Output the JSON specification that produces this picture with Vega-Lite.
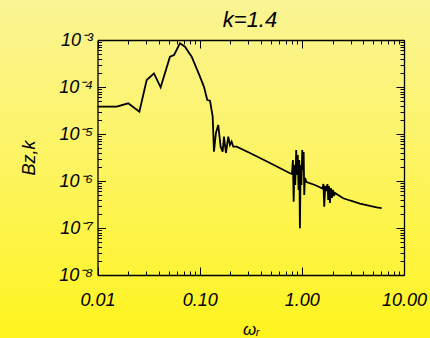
{
  "$schema": "https://vega.github.io/schema/vega-lite/v6.json",
  "autosize": "none",
  "width": 430,
  "height": 338,
  "padding": 0,
  "background": "#FCF460",
  "config": {
    "view": {
      "stroke": null,
      "fill": {
        "gradient": "linear", "x1": 0, "y1": 0, "x2": 0, "y2": 1,
        "stops": [
          {"offset": 0, "color": "#FAF494"},
          {"offset": 0.5, "color": "#FDF460"},
          {"offset": 1, "color": "#FFF41E"}
        ]
      }
    },
    "axis": {
      "grid": false,
      "domain": false,
      "labelFont": "Liberation Sans",
      "labelFontStyle": "italic",
      "labelColor": "#000000",
      "titleFont": "Liberation Sans",
      "titleFontStyle": "italic",
      "titleFontWeight": "normal",
      "titleColor": "#000000",
      "tickColor": "#000000",
      "tickWidth": 1,
      "domainColor": "#000000",
      "domainWidth": 1.3
    }
  },
  "title": {
    "text": "k=1.4",
    "frame": "group",
    "font": "Liberation Sans",
    "fontStyle": "italic",
    "fontWeight": "normal",
    "fontSize": 22,
    "color": "#000000",
    "anchor": "start",
    "align": "center",
    "dx": 250,
    "baseline": "alphabetic",
    "offset": -49
  },
  "data": {
    "values": [
      {"w": 0.01, "B": 3.81e-5},
      {"w": 0.0154, "B": 3.81e-5},
      {"w": 0.0200, "B": 4.50e-5},
      {"w": 0.0257, "B": 2.98e-5},
      {"w": 0.0303, "B": 1.41e-4},
      {"w": 0.0357, "B": 1.95e-4},
      {"w": 0.0415, "B": 9.86e-5},
      {"w": 0.0512, "B": 4.41e-4},
      {"w": 0.0561, "B": 4.80e-4},
      {"w": 0.0642, "B": 8.51e-4},
      {"w": 0.0718, "B": 7.20e-4},
      {"w": 0.0835, "B": 4.41e-4},
      {"w": 0.1007, "B": 1.66e-4},
      {"w": 0.1102, "B": 1.01e-4},
      {"w": 0.1187, "B": 5.28e-5},
      {"w": 0.1262, "B": 5.11e-5},
      {"w": 0.1341, "B": 2.34e-5},
      {"w": 0.1380, "B": 4.20e-6},
      {"w": 0.1443, "B": 1.05e-5},
      {"w": 0.1520, "B": 1.55e-5},
      {"w": 0.1604, "B": 5.37e-6},
      {"w": 0.1678, "B": 4.20e-6},
      {"w": 0.1730, "B": 8.77e-6},
      {"w": 0.1808, "B": 3.94e-6},
      {"w": 0.1905, "B": 8.77e-6},
      {"w": 0.1978, "B": 5.83e-6},
      {"w": 0.2055, "B": 6.86e-6},
      {"w": 0.2133, "B": 5.37e-6},
      {"w": 0.2303, "B": 5.37e-6},
      {"w": 0.3105, "B": 3.94e-6},
      {"w": 0.4875, "B": 2.42e-6},
      {"w": 0.7656, "B": 1.46e-6},
      {"w": 0.800, "B": 1.41e-6},
      {"w": 0.818, "B": 2.80e-6},
      {"w": 0.832, "B": 3.63e-7},
      {"w": 0.847, "B": 2.19e-6},
      {"w": 0.862, "B": 8.22e-7},
      {"w": 0.881, "B": 4.57e-6},
      {"w": 0.895, "B": 1.34e-6},
      {"w": 0.912, "B": 3.57e-6},
      {"w": 0.929, "B": 6.44e-7},
      {"w": 0.944, "B": 2.80e-6},
      {"w": 0.958, "B": 9.87e-8},
      {"w": 0.973, "B": 2.19e-6},
      {"w": 0.991, "B": 8.22e-7},
      {"w": 1.009, "B": 4.57e-6},
      {"w": 1.025, "B": 1.71e-6},
      {"w": 1.042, "B": 4.14e-6},
      {"w": 1.056, "B": 5.04e-7},
      {"w": 1.072, "B": 1.16e-6},
      {"w": 1.113, "B": 9.53e-7},
      {"w": 1.343, "B": 8.22e-7},
      {"w": 1.591, "B": 6.92e-7},
      {"w": 1.627, "B": 8.63e-7},
      {"w": 1.656, "B": 2.84e-7},
      {"w": 1.694, "B": 7.83e-7},
      {"w": 1.750, "B": 6.13e-7},
      {"w": 1.781, "B": 8.63e-7},
      {"w": 1.812, "B": 3.95e-7},
      {"w": 1.841, "B": 7.83e-7},
      {"w": 1.884, "B": 3.40e-7},
      {"w": 1.927, "B": 7.10e-7},
      {"w": 1.970, "B": 4.35e-7},
      {"w": 2.015, "B": 6.44e-7},
      {"w": 2.061, "B": 4.80e-7},
      {"w": 2.108, "B": 5.56e-7},
      {"w": 2.541, "B": 4.29e-7},
      {"w": 2.957, "B": 3.85e-7},
      {"w": 3.705, "B": 3.32e-7},
      {"w": 4.64, "B": 2.94e-7},
      {"w": 5.40, "B": 2.75e-7},
      {"w": 6.04, "B": 2.66e-7}
    ]
  },
  "layer": [
    {
      "mark": {"type": "line", "color": "#000000", "strokeWidth": 1.8},
      "encoding": {
        "x": {
          "field": "w", "type": "quantitative",
          "scale": {"type": "log", "domain": [0.01, 10], "range": [97.5, 404], "nice": false},
          "axis": {
            "orient": "bottom",
            "offset": -63,
            "values": [0.01, 0.1, 1, 10],
            "ticks": false,
            "labelExpr": "format(datum.value, '.2f')",
            "labelFontSize": 18,
            "labelPadding": 16,
            "labelFlush": false,
            "labelOverlap": false,
            "title": "ωᵣ",
            "titleFontSize": 17,
            "titlePadding": 12
          }
        },
        "y": {
          "field": "B", "type": "quantitative",
          "scale": {"type": "log", "domain": [1e-8, 1e-3], "range": [275, 40], "nice": false},
          "axis": {
            "orient": "left",
            "offset": -97.5,
            "values": [1e-8, 1e-7, 1e-6, 1e-5, 1e-4, 1e-3],
            "ticks": false,
            "labelExpr": "'10⁻' + ['⁰','¹','²','³','⁴','⁵','⁶','⁷','⁸','⁹'][-round(log(datum.value) / LN10)]",
            "labelFontSize": 18,
            "labelPadding": 5,
            "labelFlush": false,
            "labelOverlap": false,
            "title": "Bz,k",
            "titleFontSize": 18,
            "titlePadding": 20
          }
        }
      }
    },
    {
      "mark": {"type": "line", "strokeOpacity": 0},
      "encoding": {
        "x": {
          "field": "w", "type": "quantitative",
          "axis": {
            "orient": "bottom",
            "offset": -63,
            "domain": true,
            "values": [0.01, 0.02, 0.03, 0.04, 0.05, 0.06, 0.07, 0.08, 0.09, 0.1, 0.2, 0.3, 0.4, 0.5, 0.6, 0.7, 0.8, 0.9, 1, 2, 3, 4, 5, 6, 7, 8, 9, 10],
            "labels": false,
            "title": null,
            "tickSize": {"condition": {"test": "abs(log(datum.value) / LN10 - round(log(datum.value) / LN10)) < 0.001", "value": -8}, "value": -4}
          }
        },
        "y": {
          "field": "B", "type": "quantitative",
          "axis": {
            "orient": "left",
            "offset": -97.5,
            "domain": true,
            "values": [1e-8, 2e-8, 3e-8, 4e-8, 5e-8, 6e-8, 7e-8, 8e-8, 9e-8, 1e-7, 2e-7, 3e-7, 4e-7, 5e-7, 6e-7, 7e-7, 8e-7, 9e-7, 1e-6, 2e-6, 3e-6, 4e-6, 5e-6, 6e-6, 7e-6, 8e-6, 9e-6, 1e-5, 2e-5, 3e-5, 4e-5, 5e-5, 6e-5, 7e-5, 8e-5, 9e-5, 1e-4, 2e-4, 3e-4, 4e-4, 5e-4, 6e-4, 7e-4, 8e-4, 9e-4, 1e-3],
            "labels": false,
            "title": null,
            "tickSize": {"condition": {"test": "abs(log(datum.value) / LN10 - round(log(datum.value) / LN10)) < 0.001", "value": -8}, "value": -4}
          }
        }
      }
    },
    {
      "mark": {"type": "line", "strokeOpacity": 0},
      "encoding": {
        "x": {
          "field": "w", "type": "quantitative",
          "axis": {
            "orient": "top",
            "offset": -40,
            "domain": true,
            "values": [0.01, 0.02, 0.03, 0.04, 0.05, 0.06, 0.07, 0.08, 0.09, 0.1, 0.2, 0.3, 0.4, 0.5, 0.6, 0.7, 0.8, 0.9, 1, 2, 3, 4, 5, 6, 7, 8, 9, 10],
            "labels": false,
            "title": null,
            "tickSize": {"condition": {"test": "abs(log(datum.value) / LN10 - round(log(datum.value) / LN10)) < 0.001", "value": -8}, "value": -4}
          }
        },
        "y": {
          "field": "B", "type": "quantitative",
          "axis": {
            "orient": "right",
            "offset": -26,
            "domain": true,
            "values": [1e-8, 2e-8, 3e-8, 4e-8, 5e-8, 6e-8, 7e-8, 8e-8, 9e-8, 1e-7, 2e-7, 3e-7, 4e-7, 5e-7, 6e-7, 7e-7, 8e-7, 9e-7, 1e-6, 2e-6, 3e-6, 4e-6, 5e-6, 6e-6, 7e-6, 8e-6, 9e-6, 1e-5, 2e-5, 3e-5, 4e-5, 5e-5, 6e-5, 7e-5, 8e-5, 9e-5, 1e-4, 2e-4, 3e-4, 4e-4, 5e-4, 6e-4, 7e-4, 8e-4, 9e-4, 1e-3],
            "labels": false,
            "title": null,
            "tickSize": {"condition": {"test": "abs(log(datum.value) / LN10 - round(log(datum.value) / LN10)) < 0.001", "value": -8}, "value": -4}
          }
        }
      }
    }
  ],
  "resolve": {"axis": {"x": "independent", "y": "independent"}}
}
